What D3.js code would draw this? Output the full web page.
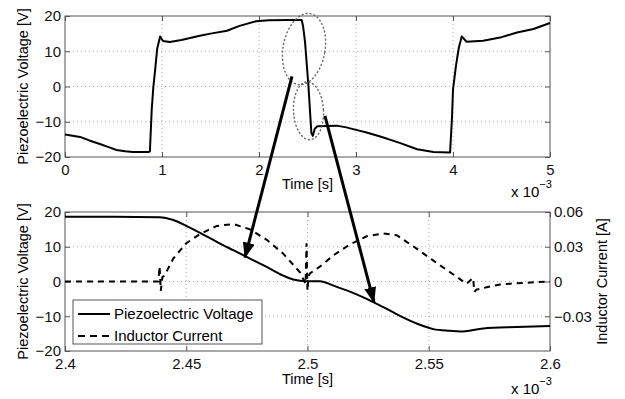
<!DOCTYPE html>
<html>
<head>
<meta charset="utf-8">
<script src="https://cdn.jsdelivr.net/npm/d3@7/dist/d3.min.js"></script>
<style>
  body { margin: 0; background: #fff; }
  svg { font-family: "Liberation Sans", Arial, sans-serif; font-size: 14.5px; }
  .grid line { stroke: #b0b0b0; stroke-dasharray: 1,3; }
  .axis path { display: none; }
  .axis line { stroke: #555; }
  .axis text { fill: #111; font-size: 15px; }
</style>
</head>
<body>
<div id="chart"></div>
<script>
// top panel: piezo voltage over 0..5 ms
var topTime = [0, 0.155, 0.25, 0.36, 0.45, 0.53, 0.62, 0.7, 0.86, 0.875, 0.894, 0.91, 0.93, 0.95, 0.98, 1.01, 1.08, 1.2, 1.39, 1.5, 1.67, 1.8, 1.97, 2.1, 2.3, 2.44, 2.455, 2.475, 2.51, 2.54, 2.555, 2.575, 2.6, 2.7, 2.8, 2.9, 3.0, 3.1, 3.25, 3.45, 3.63, 3.8, 3.97, 3.99, 4.0, 4.03, 4.06, 4.09, 4.14, 4.31, 4.5, 4.66, 4.83, 5.0];
var topVolt = [-13.6, -14.3, -15.3, -16.3, -17.2, -18.0, -18.4, -18.6, -18.6, -18.4, -6.6, -0.4, 4.9, 10.6, 14.2, 12.9, 12.6, 13.2, 14.4, 15.0, 15.8, 17.2, 18.5, 18.8, 18.9, 18.9, 17.0, 12.5, 0, -13.2, -14.0, -12.0, -11.3, -11.2, -11.1, -11.6, -12.3, -13.0, -14.2, -16.0, -17.8, -18.6, -18.7, -8.5, -0.9, 5.8, 11.0, 14.2, 12.7, 13.0, 14.0, 15.3, 16.3, 18.0];

// bottom panel: zoom 2.4..2.6 ms
var botTime = [2.4, 2.42, 2.439, 2.4447, 2.45, 2.4557, 2.4626, 2.4694, 2.4763, 2.4832, 2.49, 2.4941, 2.4997, 2.5052, 2.5107, 2.5175, 2.5244, 2.5313, 2.5381, 2.545, 2.5519, 2.5588, 2.5629, 2.5725, 2.5863, 2.6];
var botVolt = [18.6, 18.6, 18.5, 17.7, 16.0, 14.0, 11.4, 9.0, 6.6, 4.2, 1.7, 0.6, 0.1, 0.1, -1.2, -2.9, -5.0, -7.4, -9.9, -12.1, -13.7, -14.2, -14.4, -13.5, -13.1, -12.8];

var curTime = [2.4, 2.4385, 2.439, 2.4395, 2.4402, 2.441, 2.4447, 2.45, 2.4557, 2.4626, 2.4694, 2.4763, 2.4832, 2.49, 2.4969, 2.4992, 2.4996, 2.5, 2.5004, 2.501, 2.5052, 2.5107, 2.5175, 2.5244, 2.5313, 2.5368, 2.545, 2.5519, 2.5588, 2.5656, 2.5683, 2.5688, 2.5697, 2.5739, 2.5794, 2.5863, 2.6];
var curAmp = [0, 0, 0.013, -0.008, 0.004, 0.005, 0.020, 0.033, 0.041, 0.048, 0.0496, 0.045, 0.036, 0.024, 0.008, -0.002, 0.033, -0.008, 0.004, 0.007, 0.013, 0.0226, 0.032, 0.039, 0.0415, 0.040, 0.0284, 0.018, 0.008, -0.002, 0.003, -0.009, -0.007, -0.005, -0.0026, -0.0015, 0];

var topXTicks = [0, 1, 2, 3, 4, 5];
var botXTicks = [2.4, 2.45, 2.5, 2.55, 2.6];
var voltTicks = [-20, -10, 0, 10, 20];
var ampTicks = [-0.03, 0, 0.03, 0.06];
var legendLabels = ["Piezoelectric Voltage", "Inductor Current"];

var W = 625, H = 399;
var svg = d3.select("#chart").append("svg").attr("width", W).attr("height", H);
svg.append("rect").attr("width", W).attr("height", H).attr("fill", "#fff");

var L = 65, R = 550;
var top1 = 16, bot1 = 157, top2 = 212, bot2 = 351;

var x1 = d3.scaleLinear().domain([0, 5]).range([L, R]);
var y1 = d3.scaleLinear().domain([-20, 20]).range([bot1, top1]);
var x2 = d3.scaleLinear().domain([2.4, 2.6]).range([L, R]);
var y2 = d3.scaleLinear().domain([-20, 20]).range([bot2, top2]);
var y2r = d3.scaleLinear().domain([-0.06, 0.06]).range([bot2, top2]);

function panel(x, y, xt, yt, top, bot, rightAxis, rt) {
  var g = svg.append("g");
  // grid
  var grid = g.append("g").attr("class", "grid");
  grid.selectAll(".gx").data(xt.slice(1, -1)).enter().append("line")
    .attr("x1", function(d){ return x(d); }).attr("x2", function(d){ return x(d); })
    .attr("y1", top).attr("y2", bot);
  grid.selectAll(".gy").data(yt.slice(1, -1)).enter().append("line")
    .attr("x1", L).attr("x2", R)
    .attr("y1", function(d){ return y(d); }).attr("y2", function(d){ return y(d); });

  g.append("g").attr("class", "axis").attr("transform", "translate(0," + bot + ")")
    .call(d3.axisBottom(x).tickValues(xt).tickSize(-5).tickPadding(7).tickFormat(d3.format("")));
  g.append("g").attr("class", "axis").attr("transform", "translate(0," + top + ")")
    .call(d3.axisTop(x).tickValues(xt).tickSize(-5).tickFormat(""));
  g.append("g").attr("class", "axis").attr("transform", "translate(" + L + ",0)")
    .call(d3.axisLeft(y).tickValues(yt).tickSize(-5).tickPadding(4));
  if (rightAxis) {
    g.append("g").attr("class", "axis").attr("transform", "translate(" + R + ",0)")
      .call(d3.axisRight(rightAxis).tickValues(rt).tickSize(-5).tickPadding(4)
        .tickFormat(function(d){ return d === 0 ? "0" : (d < 0 ? "\u22120" + d3.format(".2f")(-d).slice(1) : d3.format(".2f")(d)); }));
  } else {
    g.append("g").attr("class", "axis").attr("transform", "translate(" + R + ",0)")
      .call(d3.axisRight(y).tickValues(yt).tickSize(-5).tickFormat(""));
  }
  g.selectAll(".axis text").each(function(){
    var t = d3.select(this).text();
    if (t.charAt(0) === "-" || t.charAt(0) === "\u2212") d3.select(this).text("\u2212" + t.replace(/^[-\u2212]/, ""));
  });
  g.append("rect").attr("x", L).attr("y", top).attr("width", R - L).attr("height", bot - top)
    .attr("fill", "none").attr("stroke", "#555").attr("stroke-width", 1);
  return g;
}

panel(x1, y1, topXTicks, voltTicks, top1, bot1);
panel(x2, y2, botXTicks, voltTicks, top2, bot2, y2r, ampTicks);

// curves
var topLine = d3.line().x(function(d, i){ return x1(topTime[i]); }).y(function(d){ return y1(d); });
svg.append("path").attr("d", topLine(topVolt)).attr("fill", "none")
  .attr("stroke", "#000").attr("stroke-width", 2).attr("stroke-linejoin", "round");

var botLine = d3.line().x(function(d, i){ return x2(botTime[i]); }).y(function(d){ return y2(d); }).curve(d3.curveMonotoneX);
svg.append("path").attr("d", botLine(botVolt)).attr("fill", "none")
  .attr("stroke", "#000").attr("stroke-width", 2);

var curLine = d3.line().x(function(d, i){ return x2(curTime[i]); }).y(function(d){ return y2r(d); });
svg.append("path").attr("d", curLine(curAmp)).attr("fill", "none")
  .attr("stroke", "#000").attr("stroke-width", 2).attr("stroke-dasharray", "6,5");

// axis labels
function ylabel(cx, cy, txt) {
  svg.append("text").attr("transform", "translate(" + cx + "," + cy + ") rotate(-90)")
    .attr("text-anchor", "middle").text(txt);
}
ylabel(28, (top1 + bot1) / 2, "Piezoelectric Voltage [V]");
ylabel(28, (top2 + bot2) / 2, "Piezoelectric Voltage [V]");
ylabel(607, (top2 + bot2) / 2, "Inductor Current [A]");

function xlabel(by, my) {
  svg.append("text").attr("x", (L + R) / 2).attr("y", by).attr("text-anchor", "middle").text("Time [s]");
  var t = svg.append("text").attr("x", 511).attr("y", my).attr("font-size", 15);
  t.append("tspan").text("x 10");
  t.append("tspan").attr("dy", -9).attr("font-size", 11).text("\u22123");
}
xlabel(189, 197);
xlabel(384, 394);

// legend
var lg = svg.append("g");
lg.append("rect").attr("x", 73).attr("y", 300).attr("width", 189).attr("height", 44)
  .attr("fill", "#fff").attr("stroke", "#555");
legendLabels.forEach(function(lab, i){
  var yy = 314 + i * 22;
  lg.append("line").attr("x1", 78).attr("x2", 110).attr("y1", yy).attr("y2", yy)
    .attr("stroke", "#000").attr("stroke-width", 2)
    .attr("stroke-dasharray", i ? "7,5" : null);
  lg.append("text").attr("x", 114).attr("y", yy + 5).attr("font-size", 15).text(lab);
});

// dotted ellipses around the fast transition
var ell = svg.append("g").attr("fill", "none").attr("stroke", "#666")
  .attr("stroke-width", 1.4).attr("stroke-dasharray", "1,3").attr("stroke-linecap", "round");
ell.append("ellipse").attr("transform", "translate(" + x1(2.464) + "," + y1(10.6) + ") rotate(10)")
  .attr("rx", 21).attr("ry", 36);
ell.append("ellipse").attr("transform", "translate(" + x1(2.51) + "," + y1(-6.9) + ") rotate(-3)")
  .attr("rx", 15).attr("ry", 29);

// arrows from the top panel into the zoomed panel
svg.append("defs").append("marker").attr("id", "head")
  .attr("markerUnits", "userSpaceOnUse").attr("viewBox", "0 0 16 12")
  .attr("refX", 15).attr("refY", 6).attr("markerWidth", 16).attr("markerHeight", 12)
  .attr("orient", "auto")
  .append("path").attr("d", "M0,0 L16,6 L0,12 Z").attr("fill", "#000");

var arrows = [
  [x1(2.34), y1(2.86), x2(2.4742), y2(6.9)],
  [x1(2.68), y1(-8.3), x2(2.5274), y2(-6.0)]
];
arrows.forEach(function(a){
  svg.append("line").attr("x1", a[0]).attr("y1", a[1]).attr("x2", a[2]).attr("y2", a[3])
    .attr("stroke", "#000").attr("stroke-width", 3).attr("marker-end", "url(#head)");
});
</script>
</body>
</html>
